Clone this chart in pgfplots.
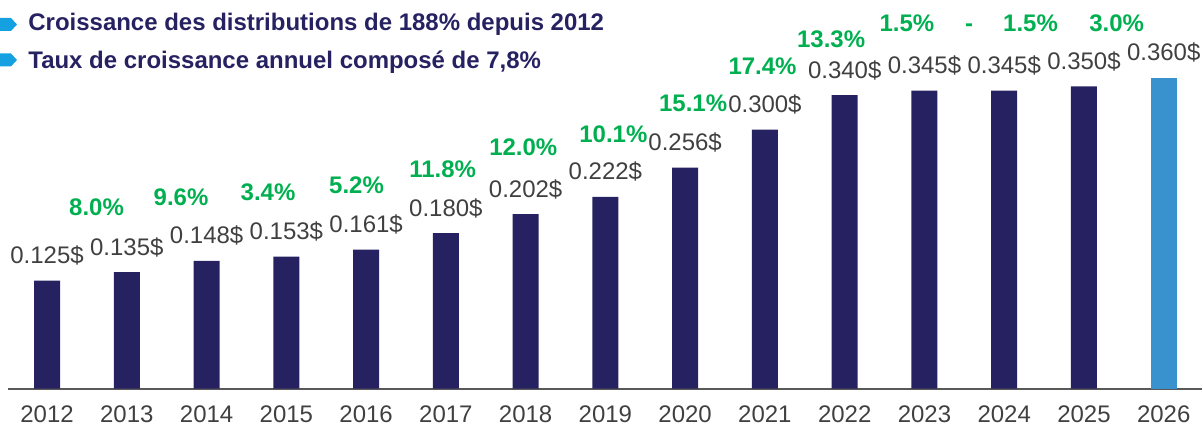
\documentclass[border=0pt]{standalone}
\usepackage{fontspec}
\setmainfont{Liberation Sans}
\usepackage{pgfplots}
\pgfplotsset{compat=1.18}

\definecolor{navy}{RGB}{38,34,98}
\definecolor{lastbar}{RGB}{57,146,206}
\definecolor{growth}{RGB}{0,176,80}
\definecolor{txtgray}{RGB}{64,64,64}
\definecolor{axgray}{RGB}{89,89,89}
\definecolor{tagblue}{RGB}{20,160,225}

\begin{document}
\begin{tikzpicture}
\begin{axis}[
    scale only axis,
    width=597.5pt, height=194.5pt,
    xmin=-0.49, xmax=14.48,
    ymin=0, ymax=0.45,
    axis x line*=bottom,
    axis y line=none,
    axis line style={draw=axgray, line width=1pt},
    xtick={0,1,2,3,4,5,6,7,8,9,10,11,12,13,14},
    xticklabels={2012,2013,2014,2015,2016,2017,2018,2019,2020,2021,2022,2023,2024,2025,2026},
    major tick length=0pt,
    xticklabel style={font=\fontsize{12}{14}\selectfont, text=txtgray, yshift=-5pt},
    /pgf/number format/assume math mode=true,
    bar width=13pt,
    clip=false,
]

% dividende annuel
\addplot[ybar, bar shift=0pt, fill=navy, draw=none,
    point meta=y,
    nodes near coords={\pgfmathprintnumber[fixed,fixed zerofill,precision=3]{\pgfplotspointmeta}\$},
    every node near coord/.append style={font=\fontsize{12}{14}\selectfont, text=txtgray, anchor=base, inner sep=0pt, yshift=8.5pt}]
coordinates {(0,0.125) (1,0.135) (2,0.148) (3,0.153) (4,0.161) (5,0.180) (6,0.202)
             (7,0.222) (8,0.256) (9,0.300) (10,0.340) (11,0.345) (12,0.345) (13,0.350)};

\addplot[ybar, bar shift=0pt, fill=lastbar, draw=none,
    point meta=y,
    nodes near coords={\pgfmathprintnumber[fixed,fixed zerofill,precision=3]{\pgfplotspointmeta}\$},
    every node near coord/.append style={font=\fontsize{12}{14}\selectfont, text=txtgray, anchor=base, inner sep=0pt, yshift=8.5pt}]
coordinates {(14,0.360)};

% croissance annuelle
\addplot[draw=none, mark=none,
    point meta=explicit symbolic,
    nodes near coords,
    every node near coord/.append style={font=\bfseries\fontsize{12}{14}\selectfont, text=growth, anchor=center, inner sep=0pt}]
coordinates {(0.62,0.2106) [8.0\%] (1.68,0.2222) [9.6\%] (2.77,0.2269) [3.4\%]
             (3.88,0.2361) [5.2\%] (4.96,0.2546) [11.8\%] (5.97,0.2801) [12.0\%]
             (7.10,0.2951) [10.1\%] (8.10,0.3299) [15.1\%] (8.97,0.3738) [17.4\%]
             (9.83,0.4051) [13.3\%] (10.78,0.4225) [1.5\%] (11.56,0.4178) [-]
             (12.33,0.4225) [1.5\%] (13.41,0.4225) [3.0\%]};
\end{axis}

\begin{scope}[shift={(current axis.north west)}]
  \fill[tagblue] (-4pt,-9pt) -- (1.5pt,-9pt) -- (4.5pt,-12.25pt) -- (1.5pt,-15.5pt) -- (-4pt,-15.5pt) -- cycle;
  \fill[tagblue] (-4pt,-26.75pt) -- (1.5pt,-26.75pt) -- (4.5pt,-30pt) -- (1.5pt,-33.25pt) -- (-4pt,-33.25pt) -- cycle;
  \node[anchor=base west, inner sep=0pt, text=navy, font=\bfseries\fontsize{12}{14}\selectfont]
    at (10pt,-15.5pt) {Croissance des distributions de 188\% depuis 2012};
  \node[anchor=base west, inner sep=0pt, text=navy, font=\bfseries\fontsize{12}{14}\selectfont]
    at (10pt,-34.5pt) {Taux de croissance annuel composé de 7,8\%};
  \path (-4pt,-213.5pt) rectangle (597.5pt,0pt);
\end{scope}
\end{tikzpicture}
\end{document}
